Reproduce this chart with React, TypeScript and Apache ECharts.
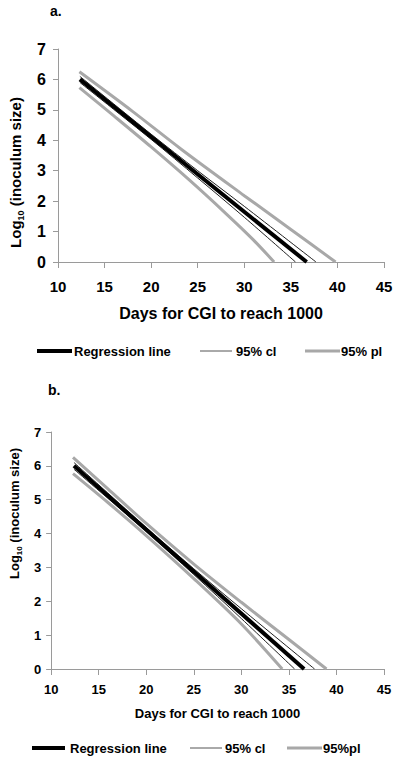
import React, { useEffect, useRef } from "react";
import * as echarts from "echarts";

// Axis ticks (shared by both panels)
const xTicks = [10, 15, 20, 25, 30, 35, 40, 45];
const yTicks = [0, 1, 2, 3, 4, 5, 6, 7];

// Legend entries
const legendA = ["Regression line", "95% cl", "95% pl"];
const legendB = ["Regression line", "95% cl", "95%pl"];

// Panel a.
const aRegression: number[][] = [[12.35, 6.0], [36.7, 0]];
const aCIUpper: number[][] = [[12.35, 6.1], [20, 4.2], [25, 3.0], [30, 1.83], [37.7, 0]];
const aCILower: number[][] = [[12.35, 5.9], [20, 4.03], [25, 2.76], [30, 1.47], [35.5, 0]];
const aPIUpper: number[][] = [[12.3, 6.25], [18, 4.95], [23.3, 3.69], [30, 2.18], [35, 1.07], [39.8, 0]];
const aPILower: number[][] = [[12.3, 5.73], [16, 4.8], [20, 3.78], [24, 2.72], [28, 1.6], [31, 0.72], [33.2, 0]];

// Panel b.
const bRegression: number[][] = [[12.4, 6.0], [36.6, 0]];
const bCIUpper: number[][] = [[12.4, 6.1], [20, 4.18], [25, 2.96], [30, 1.78], [37.7, 0]];
const bCILower: number[][] = [[12.4, 5.9], [20, 4.06], [25, 2.79], [30, 1.49], [35.6, 0]];
const bPIUpper: number[][] = [[12.3, 6.25], [16, 5.31], [20, 4.3], [25, 3.1], [30, 1.97], [35, 0.87], [38.95, 0]];
const bPILower: number[][] = [[12.3, 5.77], [16, 4.91], [20, 3.94], [25, 2.67], [30, 1.33], [34.3, 0]];

const FONT = "'Liberation Sans', Arial, sans-serif";
const AXIS_GRAY = "#9a9a9a";
const PI_GRAY = "#a8a8a8";
const CI_COLOR = "#222";

function xAxisFor(gridIndex: number, fs: number, margin: number, nameFs: number, nameGap: number) {
  return {
    type: "value",
    gridIndex,
    min: xTicks[0],
    max: xTicks[xTicks.length - 1],
    interval: xTicks[1] - xTicks[0],
    axisLine: { show: true, lineStyle: { color: AXIS_GRAY, width: 1 } },
    axisTick: { show: true, length: 6, lineStyle: { color: AXIS_GRAY } },
    splitLine: { show: false },
    axisLabel: { fontSize: fs, fontWeight: "bold", color: "#000", margin, fontFamily: FONT },
    name: "Days for CGI to reach 1000",
    nameLocation: "middle",
    nameGap,
    nameTextStyle: { fontSize: nameFs, fontWeight: "bold", color: "#000", fontFamily: FONT },
  };
}

function yAxisFor(gridIndex: number, fs: number, margin: number, nameFs: number, nameGap: number, padding: number[]) {
  return {
    type: "value",
    gridIndex,
    min: yTicks[0],
    max: yTicks[yTicks.length - 1],
    interval: yTicks[1] - yTicks[0],
    axisLine: { show: true, lineStyle: { color: AXIS_GRAY, width: 1 } },
    axisTick: { show: true, length: 5, lineStyle: { color: AXIS_GRAY } },
    splitLine: { show: false },
    axisLabel: { fontSize: fs, fontWeight: "bold", color: "#000", margin, fontFamily: FONT },
    name: "{b|Log}{s|10}{b| (inoculum size)}",
    nameLocation: "middle",
    nameRotate: 90,
    nameGap,
    nameTextStyle: {
      padding,
      rich: {
        b: { fontSize: nameFs, fontWeight: "bold", color: "#000", fontFamily: FONT, lineHeight: nameFs + 4 },
        s: { fontSize: Math.round(nameFs * 0.62), fontWeight: "bold", color: "#000", fontFamily: FONT, verticalAlign: "bottom", lineHeight: nameFs + 2 },
      },
    },
  };
}

function line(name: string, data: number[][], idx: number, color: string, width: number, z: number, smooth: number | boolean = false) {
  return {
    type: "line",
    name,
    data,
    xAxisIndex: idx,
    yAxisIndex: idx,
    symbol: "none",
    showSymbol: false,
    smooth,
    lineStyle: { color, width },
    itemStyle: { color },
    z,
    silent: true,
  };
}

// Legend drawn as graphic elements: [lineX1, lineX2, textX] per entry
function legendGraphic(names: string[], y: number, pos: number[][], fs: number) {
  const styles = [
    { stroke: "#000", lineWidth: 4 },
    { stroke: "#555", lineWidth: 1 },
    { stroke: PI_GRAY, lineWidth: 3 },
  ];
  const els: any[] = [];
  names.forEach((n, i) => {
    const [x1, x2, tx] = pos[i];
    els.push({ type: "line", shape: { x1, y1: y, x2, y2: y }, style: styles[i], silent: true });
    els.push({
      type: "text",
      x: tx,
      y,
      style: { text: n, font: `bold ${fs}px ${FONT}`, fill: "#000", verticalAlign: "middle" },
      silent: true,
    });
  });
  return els;
}

export default function App() {
  const ref = useRef<HTMLDivElement>(null);
  useEffect(() => {
    if (!ref.current) return;
    const chart = echarts.init(ref.current, undefined, { renderer: "svg" });
    chart.setOption({
      animation: false,
      backgroundColor: "#fff",
      textStyle: { fontFamily: FONT },
      grid: [
        { left: 55, top: 49, width: 329, height: 213 },
        { left: 47, top: 432, width: 337, height: 237 },
      ],
      xAxis: [xAxisFor(0, 15, 17, 16, 43), xAxisFor(1, 13, 14, 13, 38)],
      yAxis: [
        yAxisFor(0, 16, 12, 15, 33, [0, 34, 0, 0]),
        yAxisFor(1, 13, 10, 13, 26, [0, 0, 0, 74]),
      ],
      graphic: [
        { type: "text", x: 50, y: 11, style: { text: "a.", font: `bold 14px ${FONT}`, fill: "#000", verticalAlign: "middle" } },
        { type: "text", x: 48, y: 390, style: { text: "b.", font: `bold 14px ${FONT}`, fill: "#000", verticalAlign: "middle" } },
        ...legendGraphic(legendA, 351, [[37, 72, 74], [200, 232, 236], [305, 340, 341]], 13),
        ...legendGraphic(legendB, 748, [[32, 65, 70], [190, 222, 225], [287, 322, 323]], 13),
      ],
      series: [
        line(legendA[2], aPIUpper, 0, PI_GRAY, 3, 2, 0.3),
        line(legendA[2], aPILower, 0, PI_GRAY, 3, 2, 0.3),
        line(legendA[1], aCIUpper, 0, CI_COLOR, 1, 3, 0.3),
        line(legendA[1], aCILower, 0, CI_COLOR, 1, 3, 0.3),
        line(legendA[0], aRegression, 0, "#000", 4, 4),
        line(legendB[2], bPIUpper, 1, PI_GRAY, 3, 2, 0.3),
        line(legendB[2], bPILower, 1, PI_GRAY, 3, 2, 0.3),
        line(legendB[1], bCIUpper, 1, CI_COLOR, 1, 3, 0.3),
        line(legendB[1], bCILower, 1, CI_COLOR, 1, 3, 0.3),
        line(legendB[0], bRegression, 1, "#000", 4, 4),
      ],
    });
    return () => chart.dispose();
  }, []);
  return (
    <div
      ref={ref}
      style={{ position: "absolute", left: 0, top: 0, width: 400, height: 761, background: "#fff" }}
    />
  );
}
